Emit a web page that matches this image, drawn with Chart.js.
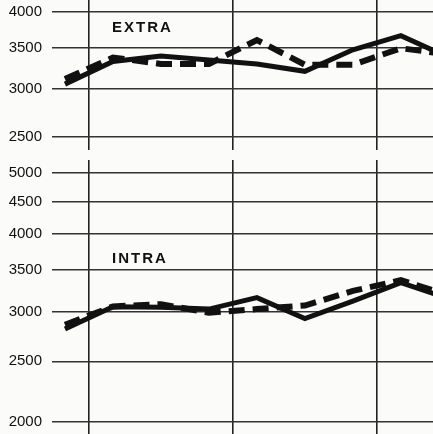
<!DOCTYPE html>
<html>
<head>
<meta charset="utf-8">
<script src="https://cdn.jsdelivr.net/npm/chart.js@4"></script>
<style>
    body { margin: 0; background: #fbfbfa; }
    #wrap { position: relative; width: 433px; height: 434px; overflow: hidden; }
    .box { position: absolute; left: 0; width: 433px; }
    .title {
        position: absolute;
        left: 112px;
        font: bold 15px "Liberation Sans", Arial, sans-serif;
        line-height: 15px;
        letter-spacing: 2px;
        color: #111;
    }
</style>
</head>
<body>
<div id="wrap">
    <div class="box" style="top:0;height:150px"><canvas id="extraChart" width="433" height="150"></canvas></div>
    <div class="box" style="top:160px;height:274px"><canvas id="intraChart" width="433" height="274"></canvas></div>
    <div class="title" style="top:19px">EXTRA</div>
    <div class="title" style="top:250px">INTRA</div>
</div>
<script>
// periods along the x axis (one point each), year breaks between them
const periods = [0, 1, 2, 3, 4, 5, 6, 7, 8];
const yearBreaks = [0.5, 3.5, 6.5];

// EXTRA panel
const extraSolid  = [3050, 3320, 3390, 3340, 3290, 3200, 3470, 3660, 3370];
const extraDashed = [3110, 3370, 3290, 3290, 3600, 3280, 3280, 3490, 3410];
const extraTicks  = [2500, 3000, 3500, 4000];

// INTRA panel
const intraSolid  = [2815, 3055, 3050, 3030, 3160, 2925, 3120, 3340, 3150];
const intraDashed = [2860, 3060, 3085, 2990, 3030, 3070, 3240, 3370, 3190];
const intraTicks  = [2000, 2500, 3000, 3500, 4000, 4500, 5000];

function points(values) {
    return values.map((v, i) => ({ x: periods[i], y: v }));
}

function makeChart(id, solid, dashed, ticks, yMin, yMax) {
    const ctx = document.getElementById(id).getContext('2d');
    return new Chart(ctx, {
        type: 'line',
        data: {
            datasets: [{
                data: points(dashed),
                borderColor: '#111',
                borderWidth: 6,
                borderDash: [16, 8],
                pointRadius: 0,
                tension: 0,
                fill: false
            }, {
                data: points(solid),
                borderColor: '#111',
                borderWidth: 5,
                pointRadius: 0,
                tension: 0,
                fill: false
            }]
        },
        options: {
            responsive: false,
            animation: false,
            devicePixelRatio: 1,
            layout: { padding: 0 },
            plugins: { legend: { display: false }, tooltip: { enabled: false } },
            scales: {
                x: {
                    type: 'linear',
                    min: -0.27,
                    max: 7.67,
                    afterBuildTicks: axis => { axis.ticks = yearBreaks.map(v => ({ value: v })); },
                    // no room for the hidden x axis
                    afterFit: axis => {
                        axis.height = 0;
                        axis.paddingLeft = axis.paddingRight = 0;
                    },
                    ticks: { display: false },
                    grid: { color: '#222', lineWidth: 1.6, drawTicks: false },
                    border: { display: false }
                },
                y: {
                    type: 'logarithmic',
                    min: yMin,
                    max: yMax,
                    afterBuildTicks: axis => { axis.ticks = ticks.map(v => ({ value: v })); },
                    // fixed label column, and let the plot use the full height
                    afterFit: axis => {
                        axis.width = 52;
                        axis.paddingTop = axis.paddingBottom = 0;
                    },
                    ticks: {
                        callback: v => String(v),
                        padding: 10,
                        color: '#111',
                        font: { family: '"Liberation Sans", Arial, sans-serif', size: 15 }
                    },
                    grid: { color: '#333', lineWidth: 1.5, drawTicks: false },
                    border: { display: false }
                }
            }
        }
    });
}

makeChart('extraChart', extraSolid, extraDashed, extraTicks, 2381, 4184);
makeChart('intraChart', intraSolid, intraDashed, intraTicks, 1913, 5245);
</script>
</body>
</html>
